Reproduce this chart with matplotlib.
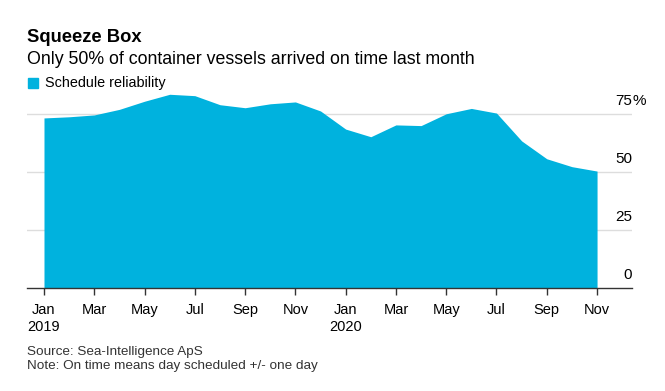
import matplotlib.pyplot as plt
from matplotlib.patches import Rectangle

plt.rcParams['font.family'] = ['Liberation Sans', 'DejaVu Sans']

# monthly schedule reliability, Jan 2019 .. Nov 2020 (percent)
months = ['Jan', 'Feb', 'Mar', 'Apr', 'May', 'Jun', 'Jul', 'Aug', 'Sep', 'Oct', 'Nov', 'Dec',
          'Jan', 'Feb', 'Mar', 'Apr', 'May', 'Jun', 'Jul', 'Aug', 'Sep', 'Oct', 'Nov']
reliability = [73.3, 73.8, 74.6, 77.0, 80.5, 83.5, 82.9, 79.0, 77.7, 79.4, 80.2, 76.3,
               68.5, 65.2, 70.3, 70.0, 75.1, 77.4, 75.4, 63.4, 55.7, 52.3, 50.4]
year_labels = {0: '2019', 12: '2020'}
y_ticks = [0, 25, 50, 75]
y_tick_labels = ['0', '25', '50', '75']

blue = '#00b2de'
W, H = 665, 391

fig = plt.figure(figsize=(W / 100, H / 100), dpi=100)
ax = fig.add_axes([27 / W, 103 / H, 605 / W, (85 * 58 / 25) / H])

x = list(range(len(reliability)))
ax.fill_between(x, reliability, 0, color=blue, linewidth=0)

ax.set_ylim(0, 85)
ax.set_xlim(-0.676, 23.39)

for v in y_ticks[1:]:
    ax.axhline(v, color='#dddddd', linewidth=1, zorder=0)
for v, lab in zip(y_ticks, y_tick_labels):
    ax.text(23.39, v + 5.8, lab, ha='right', va='center', fontsize=11, color='black')
# percent sign hangs past the right edge of the numbers
ax.text(23.39, y_ticks[-1] + 5.8, '%', ha='left', va='center', fontsize=11, color='black')

for s in ['top', 'right', 'left']:
    ax.spines[s].set_visible(False)
ax.spines['bottom'].set_color('#333333')
ax.spines['bottom'].set_linewidth(1)

ticks = x[::2]
ax.set_xticks(ticks)
ax.set_xticklabels([months[i] + ('\n' + year_labels[i] if i in year_labels else '')
                    for i in ticks], fontsize=10.5, linespacing=1.25, va='top')
ax.tick_params(axis='x', length=5, width=1, color='#333333', pad=6)
ax.set_yticks([])

fig.text(27 / W, 1 - 37 / H, 'Squeeze Box', fontsize=13.2, fontweight='bold', va='center')
fig.text(27 / W, 1 - 59 / H, 'Only 50% of container vessels arrived on time last month',
         fontsize=12.8, va='center')
fig.patches.append(Rectangle((28 / W, 1 - 88 / H), 10 / W, 10 / H,
                             transform=fig.transFigure, color=blue))
fig.text(45 / W, 1 - 83 / H, 'Schedule reliability', fontsize=10.4, va='center')

fig.text(27 / W, 1 - 352 / H, 'Source: Sea-Intelligence ApS', fontsize=9.7,
         va='center', color='#333333')
fig.text(27 / W, 1 - 366 / H, 'Note: On time means day scheduled +/- one day', fontsize=9.7,
         va='center', color='#333333')

fig.savefig('out.png', dpi=100)
